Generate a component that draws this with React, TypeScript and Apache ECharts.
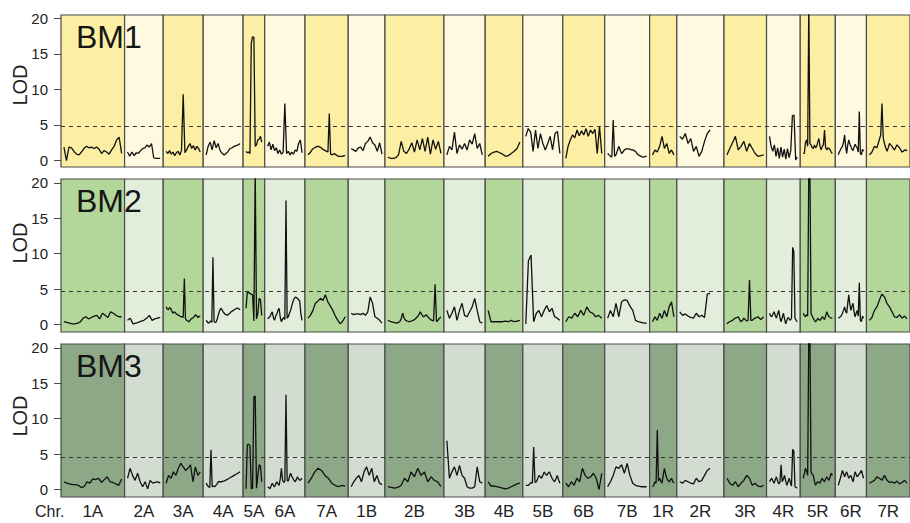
import React, { useEffect, useRef } from "react";
import * as echarts from "echarts";

// ---------- data ----------
const CHROMOSOMES = ["1A", "2A", "3A", "4A", "5A", "6A", "7A", "1B", "2B", "3B", "4B", "5B", "6B", "7B", "1R", "2R", "3R", "4R", "5R", "6R", "7R"];
// genetic map lengths (map units)
const CHROM_LENGTHS = [64.7, 39.3, 40.7, 40.6, 22, 41, 44, 37.4, 60, 42, 38.3, 40.7, 42.6, 45.7, 27.7, 48, 43.3, 34.3, 35.7, 31.7, 44.3];
const PANELS = ["BM1", "BM2", "BM3"];
const THRESHOLDS = [4.8, 4.65, 4.6];
const Y_TICKS = [0, 5, 10, 15, 20];

// LOD profiles, values evenly spaced along each chromosome (null = no marker)
const BM1_LOD: (number | null)[][] = [
  [1.9, 0.0, 1.9, 1.8, 1.3, 0.9, 0.8, 1.2, 1.7, 2.0, 1.8, 1.9, 1.7, 1.9, 1.6, 1.0, 1.4, 1.2, 0.9, 1.5, 2.0, 2.9, 3.3, 1.0],
  [1.2, 0.6, 1.2, 0.7, 1.1, 1.0, 1.4, 1.7, 1.8, 2.2, 1.9, 2.4, 0.4, 0.3, 0.3, 0.3],
  [1.3, 1.0, 1.4, 0.9, 1.2, 0.7, 1.1, 1.3, 0.8, 1.4, 9.3, 1.1, 1.5, 2.0, 2.4, 1.7, 2.1, 1.5, 2.0, 1.7, 1.2],
  [0.8, 2.0, 2.6, 1.5, 2.8, 1.8, 2.4, 1.4, 1.0, 0.8, 1.0, 1.3, 1.7, 1.8, 2.0, 2.1, 2.2, 2.4],
  [1.3, 1.1, 1.2, 1.0, 16.5, 17.4, 17.3, 2.0, 2.2, 2.9, 3.0, 3.4, 2.6],
  [2.0, 2.6, 1.5, 2.3, 1.4, 1.8, 1.0, 1.5, 0.9, 1.2, 8.0, 1.0, 1.3, 0.8, 1.2, 0.9, 1.5, 1.3, 2.4, 2.9, 1.1],
  [0.8, 1.0, 1.2, 1.5, 1.7, 1.8, 1.9, 2.0, 2.0, 1.9, 1.8, 1.6, 1.5, 1.4, 1.3, 1.2, 6.6, 0.9, 0.8, 0.9, 1.0, 0.8, 0.7, 0.6, 0.6, 0.6, 0.6, 0.7, 0.7],
  [1.7, 1.5, 1.3, 1.8, 1.9, 1.4, 2.4, 2.7, 3.3, 2.5, 2.2, 1.3, 2.5, 0.9],
  [0.5, 0.3, 0.3, 0.4, 0.8, 2.7, 1.3, 1.0, 1.6, 2.5, 1.2, 2.9, 1.5, 3.1, 1.3, 3.3, 0.9, 2.9, 1.6, 2.7, 1.0],
  [0.8, 2.0, 1.5, 4.0, 1.0, 2.2, 1.6, 2.4, 1.5, 2.9, 2.3, 3.8, 1.7, 2.4, 0.8],
  [0.6, 1.0, 1.2, 1.3, 1.1, 0.9, 0.6, 0.7, 1.0, 1.3, 1.7, 2.6],
  [3.4, 4.5, 4.0, 1.3, 4.3, 1.7, 3.8, 2.4, 1.5, 2.4, 3.4, 1.5, 3.8, 4.1, 1.0],
  [0.3, 2.0, 2.9, 3.6, 3.2, 4.3, 3.5, 4.2, 3.6, 4.5, 3.4, 4.3, 3.8, 4.4, 1.0, 4.8, 1.0],
  [1.0, 0.8, 0.6, 0.5, 5.7, 0.6, 0.8, 1.4, 2.0, 1.5, 1.0, 1.2, 1.5, 1.6, 1.7, 1.6, 1.6, 1.5, 1.5, 1.4, 1.3, 1.0, 0.8, 0.7, 0.6, 0.5, 0.5, 0.6, 0.6],
  [0.8, 1.5, 1.2, 2.0, 3.4, 1.7, 2.4, 1.0, 1.5, 0.8],
  [3.4, 3.0, 3.8, 2.4, 3.1, 1.3, 2.0, 0.6, 1.3, 2.7, 3.8, 4.3, null, null, null, null],
  [0.8, 1.7, 2.5, 3.4, 1.5, 2.0, 2.7, 1.3, 2.4, 1.7, 1.0, 0.6, 0.7, 0.8],
  [3.4, 2.0, 1.3, 2.2, 0.6, 1.8, 0.3, 1.9, 0.5, 1.6, 0.2, 1.7, 0.4, 1.4, 6.3, 6.4, 0.1, 0.5],
  [1.0, 1.0, 2.5, 2.9, 2.0, 22, 2.4, 2.2, 1.8, 1.7, 2.2, 1.8, 2.0, 2.6, 3.1, 2.0, 1.5, 2.0, 2.2, 4.3, 1.8, 1.5, 1.8, 1.7, 1.5, 1.2, 1.0],
  [0.8, 1.2, 1.5, 1.8, 2.0, 2.6, 3.6, 2.0, 1.0, 2.2, 2.9, 2.3, 2.0, 1.6, 1.4, 1.9, 2.3, 2.0, 1.8, 1.2, 6.9, 1.0, 0.8, 1.6, 1.3],
  [0.8, 1.0, 1.2, 1.6, 2.0, 1.9, 1.8, 2.4, 3.0, 3.6, 8.0, 3.2, 2.4, 1.8, 1.3, 1.8, 2.4, 2.2, 2.0, 1.7, 1.5, 1.9, 2.2, 2.0, 1.8, 1.5, 1.2, 1.3, 1.5, 1.4, 1.5],
];

const BM2_LOD: (number | null)[][] = [
  [0.4, 0.3, 0.2, 0.1, 0.1, 0.2, 0.4, 0.9, 1.1, 0.8, 1.0, 1.2, 1.3, 0.8, 1.6, 1.3, 1.0, 1.8, 1.6, 1.3, 1.1, 1.1],
  [0.6, 0.9, 0.1, 0.2, 0.3, 0.5, 0.6, 0.9, 1.3, 0.6, 0.8, 0.9, 1.0],
  [2.5, 2.2, 2.1, 2.4, 2.3, 1.9, 1.6, 1.8, 1.7, 1.5, 1.4, 1.3, 1.2, 1.1, 1.1, 1.0, 6.5, 0.8, 0.6, 0.5, 0.4, 0.6, 0.8, 0.9, 1.0, 1.2, 1.4, 1.2, 1.0, 1.2, 1.1],
  [0.6, 0.4, 0.2, 0.3, 0.5, 0.3, 9.5, 0.4, 0.3, 0.4, 0.9, 1.5, 2.0, 2.3, 2.1, 1.8, 1.6, 1.4, 1.4, 1.3, 1.5, 1.6, 1.8, 1.9, 2.0, 2.1, 2.2, 2.3, 2.3, 2.2, 2.1],
  [2.3, 4.6, 4.5, 4.4, 4.3, 4.2, 0.5, 22, 0.8, 1.5, 3.7, 3.5, 1.3],
  [0.8, 1.0, 1.1, 1.5, 1.8, 1.0, 0.6, 1.2, 1.5, 2.0, 2.3, 1.0, 0.4, 0.8, 1.0, 0.7, 17.5, 0.9, 1.1, 1.6, 2.0, 2.6, 3.2, 3.6, 3.9, 3.8, 3.7, 3.5, 3.3, 1.5, 0.6],
  [0.9, 1.3, 2.0, 3.0, 3.3, 3.7, 3.4, 4.2, 3.2, 2.6, 2.0, 1.2, 0.6, 0.1, 0.5, 1.1],
  [1.6, 1.4, 1.5, 1.5, 1.4, 1.6, 1.3, 1.8, 3.9, 3.0, 1.1, 0.9, 0.6, 0.2],
  [0.6, 0.5, 0.4, 0.35, 0.3, 0.25, 0.2, 0.3, 0.4, 0.8, 1.6, 0.9, 0.6, 0.5, 0.4, 0.45, 0.5, 0.6, 0.7, 0.9, 1.1, 1.4, 1.8, 1.4, 1.1, 1.2, 1.4, 1.1, 0.9, 0.7, 0.6, 0.5, 5.7, 0.4, 0.6, 0.9, 1.1],
  [2.0, 0.9, 1.6, 2.5, 0.6, 2.0, 3.0, 1.3, 1.1, 1.8, 2.5, 3.7, 2.0, 0.4, 0.2],
  [2.0, 0.4, 0.4, 0.4, 0.4, 0.4, 0.5, 0.4, 0.6, 0.4, 0.5, 0.6],
  [0.1, 9.0, 9.8, 0.4, 1.6, 2.0, 1.1, 2.0, 2.7, 1.8, 2.3, 1.1, 0.9, 0.6],
  [0.4, 1.1, 0.9, 1.6, 1.1, 2.0, 1.3, 2.5, 1.8, 1.6, 1.1, 1.3, 0.9],
  [0.9, 2.0, 1.1, 3.0, 1.1, 3.2, 3.5, 3.4, 2.6, 2.0, 0.6, 0.4, 0.3, 0.2, 0.2],
  [0.4, 1.1, 0.6, 1.6, 0.9, 2.0, 1.1, 2.5, 3.2, 1.1],
  [1.8, 1.3, 1.5, 1.2, 1.0, 0.9, 1.6, 1.1, 1.3, 1.0, 4.3, 4.4, null, null, null, null],
  [0.1, 0.3, 0.4, 0.5, 0.6, 0.8, 0.9, 1.0, 1.1, 0.7, 0.4, 0.6, 0.9, 0.7, 0.5, 0.6, 6.3, 0.6, 0.6, 0.8, 0.9, 1.0, 1.1, 0.9, 0.7, 0.9, 1.1],
  [1.6, 1.2, 1.1, 1.5, 1.8, 1.3, 0.9, 1.5, 2.0, 1.0, 0.4, 1.0, 1.6, 0.8, 0.1, 0.6, 1.0, 0.8, 0.6, 0.9, 10.9, 10.3, 0.9, 0.6, 0.4],
  [1.6, 1.3, 1.1, 1.4, 1.2, 22, 22, 1.6, 1.2, 0.9, 0.6, 0.4, 0.6, 0.9, 0.7, 0.6, 0.8, 1.1, 0.9, 0.7, 1.2, 1.8, 1.4, 1.1, 1.0, 0.9, 0.9],
  [0.9, 1.0, 1.1, 1.3, 1.6, 2.0, 2.5, 1.9, 1.6, 3.0, 4.2, 2.8, 2.0, 2.6, 3.0, 1.8, 1.1, 1.6, 2.0, 1.2, 5.9, 0.6, 0.4, 1.2, 0.9],
  [0.6, 1.0, 2.0, 2.5, 3.5, 4.3, 3.9, 3.0, 2.5, 1.8, 1.1, 1.0, 1.4, 0.9, 1.2, 0.8],
];

const BM3_LOD: (number | null)[][] = [
  [1.1, 0.9, 0.8, 0.7, 0.7, 0.6, 0.3, 0.4, 1.1, 0.9, 1.5, 1.4, 1.6, 1.0, 1.4, 1.8, 1.1, 1.0, 0.8, 0.6, 1.5],
  [1.6, 3.0, 2.0, 1.3, 2.3, 1.1, 0.4, 1.1, 0.1, 1.3, 0.9, 1.0, 1.1, 0.9],
  [0.9, 2.0, 1.6, 2.5, 2.0, 3.0, 3.7, 3.2, 2.7, 3.0, 3.5, 1.1, 3.2, 2.0, 2.5],
  [0.9, 0.6, 0.4, 0.3, 5.6, 0.4, 0.5, 0.4, 0.6, 0.8, 1.1, 1.1, 1.1, 1.1, 1.2, 1.2, 1.3, 1.4, 1.5, 1.6, 1.7, 1.8, 1.9, 2.0, 2.1, 2.2, 2.3, 2.4, 2.5],
  [0.1, 6.3, 6.4, 6.2, 0.1, 0.2, 13.1, 13.2, 0.2, 2.0, 3.5, 3.3, 1.1],
  [0.4, 0.3, 0.1, 0.5, 0.9, 0.6, 0.4, 0.8, 1.1, 0.8, 0.6, 1.5, 3.0, 1.4, 1.0, 1.2, 13.4, 1.3, 1.2, 1.8, 2.3, 1.9, 1.6, 1.3, 1.1, 1.4, 1.8, 1.5, 1.3, 1.4, 1.6],
  [0.9, 1.6, 2.5, 3.0, 2.7, 2.0, 1.6, 0.9, 0.6, 0.4, 0.6, 0.5],
  [0.4, 1.1, 1.6, 2.0, 1.1, 2.5, 3.2, 2.0, 3.0, 1.1, 2.0, 0.9, 0.7],
  [0.4, 0.3, 0.2, 0.3, 0.6, 1.6, 1.1, 2.5, 1.8, 3.0, 2.0, 2.5, 1.1, 1.8, 1.3, 1.1, 0.4],
  [6.9, 1.6, 2.5, 3.2, 2.0, 3.4, 2.0, 1.6, 0.4, 0.2, 0.2, 0.4, 3.2, 1.1, 0.9],
  [1.1, 0.5, 0.5, 0.4, 0.3, 0.2, 0.1, 0.2, 0.4, 0.6, 0.8, 0.9],
  [0.6, 0.6, 0.6, 0.8, 1.0, 0.9, 6.0, 1.0, 1.1, 1.5, 2.0, 1.8, 1.6, 2.0, 2.5, 2.2, 2.0, 2.3, 2.5, 2.0, 1.6, 1.3, 1.1, 1.5, 2.0, 1.4, 0.9],
  [0.9, 0.4, 1.1, 0.6, 1.6, 1.1, 3.0, 2.0, 1.6, 1.8, 2.3, 1.6, 0.0, 2.3],
  [0.4, 1.1, 2.0, 3.2, 3.0, 3.5, 2.3, 3.7, 2.0, 0.9, 0.6, 0.5, 0.4, 0.4, 0.4],
  [0.4, 0.6, 1.1, 0.9, 8.4, 1.2, 1.6, 1.2, 0.9, 2.0, 3.0, 2.2, 1.6, 1.3, 1.1, 1.3, 1.6, 1.2, 0.9],
  [1.1, 0.9, 1.3, 1.1, 0.9, 0.8, 1.6, 1.1, 1.3, 2.0, 2.7, 3.0, null, null, null, null],
  [1.6, 0.9, 0.6, 1.1, 0.4, 0.9, 1.3, 2.0, 1.6, 0.6, 0.9, 0.5, 0.4, 0.6],
  [1.1, 1.4, 1.6, 1.2, 0.9, 1.4, 1.8, 1.2, 0.8, 1.0, 3.5, 1.1, 1.5, 2.0, 1.2, 0.6, 1.1, 1.6, 1.0, 0.5, 5.7, 5.4, 0.4, 0.3, 0.2],
  [1.6, 2.2, 3.0, 2.6, 2.0, 22, 22, 2.5, 2.2, 2.0, 1.2, 0.6, 0.9, 1.1, 1.0, 0.9, 1.3, 1.6, 1.3, 1.1, 1.5, 1.8, 1.5, 1.3, 1.8, 2.3, 2.0],
  [0.6, 1.6, 2.7, 1.8, 2.5, 1.6, 2.0, 1.1, 2.5, 1.8, 2.2, 2.7, 1.6],
  [0.9, 1.1, 1.3, 1.8, 1.6, 1.3, 2.0, 1.3, 1.0, 1.1, 0.9, 1.2, 0.8, 1.0, 1.3, 0.9],
];

const LOD_DATA = [BM1_LOD, BM2_LOD, BM3_LOD];

// ---------- layout / style ----------
const FONT = "'Liberation Sans', Arial, Helvetica, sans-serif";
const BAND_COLORS = [
  ["#fcefa4", "#fef9df"],
  ["#b3d69b", "#e2eedb"],
  ["#8ca887", "#d2dcd0"],
];
const GRID_LEFT = 61;
const WIDTH = 910;
const HEIGHT = 523;
const GRID_TOPS = [15, 179, 344];
const GRID_HEIGHTS = [152, 153, 153];
const Y_MIN = [-0.9, -1.05, -1.05];
const Y_MAX = [20.45, 20.55, 20.55];
const LOD_LABEL_Y = [85, 243, 416];
const PAD = 3;
const FRAME = "#4a4a4a";

export default function App() {
  const ref = useRef<HTMLDivElement>(null);

  useEffect(() => {
    if (!ref.current) return;
    const chart = echarts.init(ref.current, null, { renderer: "svg" });

    const starts: number[] = [];
    let acc = 0;
    CHROM_LENGTHS.forEach((l) => {
      starts.push(acc);
      acc += l;
    });
    const total = acc;
    const bounds = [...starts, total];
    const centers = starts.map((s, i) => s + CHROM_LENGTHS[i] / 2);

    const grid: any[] = [];
    const xAxis: any[] = [];
    const yAxis: any[] = [];
    const series: any[] = [];
    const graphic: any[] = [];

    PANELS.forEach((name, p) => {
      grid.push({
        left: GRID_LEFT,
        right: WIDTH - GRID_LEFT - total,
        top: GRID_TOPS[p],
        height: GRID_HEIGHTS[p],
        show: false,
      });
      xAxis.push({
        type: "value",
        gridIndex: p,
        min: 0,
        max: total,
        axisLine: { show: false },
        splitLine: { show: false },
        axisTick: {
          show: true,
          customValues: bounds.slice(1),
          length: 5,
          lineStyle: { color: FRAME, width: 1 },
        },
        axisLabel:
          p === 2
            ? {
                show: true,
                customValues: centers,
                formatter: (v: number) => {
                  const i = centers.findIndex((c) => Math.abs(c - v) < 0.01);
                  return i >= 0 ? CHROMOSOMES[i] : "";
                },
                fontSize: 17,
                fontFamily: FONT,
                color: "#222",
                margin: 6,
              }
            : { show: false },
      });
      yAxis.push({
        type: "value",
        gridIndex: p,
        min: Y_MIN[p],
        max: Y_MAX[p],
        axisLine: { show: false },
        splitLine: { show: false },
        axisTick: {
          show: true,
          customValues: Y_TICKS,
          length: 7,
          lineStyle: { color: FRAME, width: 1 },
        },
        axisLabel: {
          show: true,
          customValues: Y_TICKS,
          fontSize: 15,
          fontFamily: FONT,
          color: "#222",
          margin: 13,
        },
      });

      // background bands
      series.push({
        type: "line",
        xAxisIndex: p,
        yAxisIndex: p,
        data: [],
        silent: true,
        z: 1,
        markArea: {
          silent: true,
          label: { show: false },
          data: CHROMOSOMES.map((c, i) => [
            {
              xAxis: starts[i],
              itemStyle: {
                color: BAND_COLORS[p][i % 2],
                borderColor: FRAME,
                borderWidth: 1.2,
              },
            },
            { xAxis: bounds[i + 1] },
          ]),
        },
      });

      // threshold line
      series.push({
        type: "line",
        xAxisIndex: p,
        yAxisIndex: p,
        data: [],
        silent: true,
        z: 3,
        markLine: {
          silent: true,
          symbol: ["none", "none"],
          label: { show: false },
          lineStyle: { color: "#333", type: [4, 4], width: 1 },
          data: [{ yAxis: THRESHOLDS[p] }],
        },
      });

      // LOD curves
      LOD_DATA[p].forEach((vals, c) => {
        const s = starts[c] + PAD;
        const e = bounds[c + 1] - PAD;
        const step = (e - s) / (vals.length - 1);
        series.push({
          type: "line",
          xAxisIndex: p,
          yAxisIndex: p,
          z: 4,
          silent: true,
          symbol: "none",
          showSymbol: false,
          clip: true,
          lineStyle: { color: "#111", width: 1.3 },
          data: vals.map((v, i) => [s + i * step, v]),
        });
      });

      graphic.push({
        type: "text",
        x: 76,
        y: GRID_TOPS[p] + 22,
        z: 100,
        style: {
          text: name,
          fontSize: 32,
          fontFamily: FONT,
          fill: "#151515",
          verticalAlign: "middle",
        },
      });
      graphic.push({
        type: "text",
        x: 19.5,
        y: LOD_LABEL_Y[p],
        rotation: Math.PI / 2,
        z: 100,
        style: {
          text: "LOD",
          fontSize: 20,
          fontFamily: FONT,
          fill: "#222",
          align: "center",
          verticalAlign: "middle",
        },
      });
    });

    graphic.push({
      type: "text",
      x: 35,
      y: 511,
      z: 100,
      style: {
        text: "Chr.",
        fontSize: 16,
        fontFamily: FONT,
        fill: "#222",
        verticalAlign: "middle",
      },
    });

    chart.setOption({
      animation: false,
      backgroundColor: "#ffffff",
      grid,
      xAxis,
      yAxis,
      series,
      graphic,
    });

    return () => chart.dispose();
  }, []);

  return (
    <div
      ref={ref}
      style={{ position: "fixed", left: 0, top: 0, width: WIDTH, height: HEIGHT }}
    />
  );
}
